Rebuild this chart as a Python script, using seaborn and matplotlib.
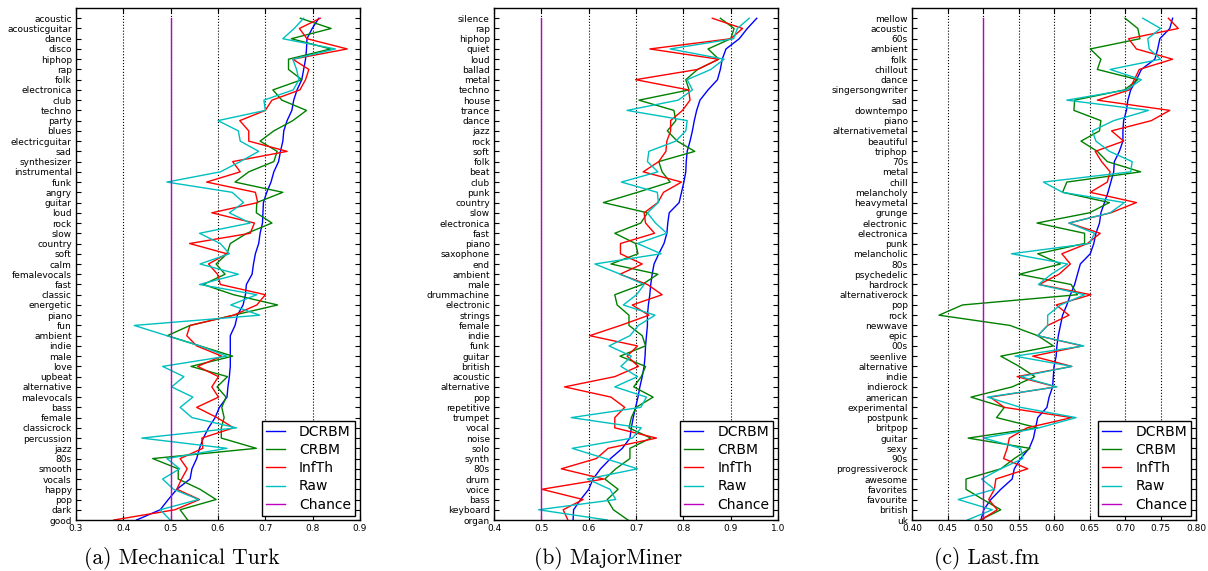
import numpy as np
import pandas as pd
import matplotlib
matplotlib.use("Agg")
import matplotlib.pyplot as plt
import seaborn as sns

# ---- (a) Mechanical Turk ----
mturk_tags = ["acoustic", "acousticguitar", "dance", "disco", "hiphop", "rap", "folk",
              "electronica", "club", "techno", "party", "blues", "electricguitar", "sad",
              "synthesizer", "instrumental", "funk", "angry", "guitar", "loud", "rock", "slow",
              "country", "soft", "calm", "femalevocals", "fast", "classic", "energetic", "piano",
              "fun", "ambient", "indie", "male", "love", "upbeat", "alternative", "malevocals",
              "bass", "female", "classicrock", "percussion", "jazz", "80s", "smooth", "vocals",
              "happy", "pop", "dark", "good"]
mturk_dcrbm = [.813, .799, .788, .787, .785, .781, .777, .767, .760, .756, .746, .739, .737, .732,
               .728, .718, .712, .703, .696, .695, .694, .689, .686, .679, .675, .672, .660, .658,
               .653, .641, .636, .626, .626, .626, .626, .624, .621, .619, .603, .594, .580, .569,
               .561, .555, .545, .541, .513, .495, .478, .428]
mturk_crbm = [.774, .839, .755, .838, .749, .749, .777, .716, .735, .787, .758, .718, .689, .725,
              .718, .665, .636, .737, .682, .681, .714, .661, .626, .619, .596, .615, .569, .633,
              .726, .633, .541, .493, .562, .631, .543, .620, .598, .617, .608, .613, .607, .607,
              .681, .462, .516, .516, .562, .596, .520, .536]
mturk_infth = [.816, .772, .788, .873, .758, .792, .785, .773, .714, .700, .646, .665, .665, .746,
               .631, .647, .576, .679, .684, .587, .677, .668, .540, .619, .580, .599, .605, .700,
               .682, .633, .541, .534, .555, .608, .557, .601, .587, .601, .555, .598, .633, .566,
               .568, .520, .535, .523, .513, .561, .509, .380]
mturk_raw = [.781, .761, .737, .848, .758, .766, .771, .759, .697, .700, .600, .643, .647, .686,
             .647, .605, .492, .630, .654, .624, .668, .561, .605, .624, .562, .643, .561, .682,
             .627, .688, .423, .492, .562, .619, .483, .528, .502, .547, .520, .545, .639, .439,
             .619, .492, .519, .483, .506, .559, .478, .499]

# ---- (b) MajorMiner ----
mm_tags = ["silence", "rap", "hiphop", "quiet", "loud", "ballad", "metal", "techno", "house",
           "trance", "dance", "jazz", "rock", "soft", "folk", "beat", "club", "punk", "country",
           "slow", "electronica", "fast", "piano", "saxophone", "end", "ambient", "male",
           "drummachine", "electronic", "strings", "female", "indie", "funk", "guitar", "british",
           "acoustic", "alternative", "pop", "repetitive", "trumpet", "vocal", "noise", "solo",
           "synth", "80s", "drum", "voice", "bass", "keyboard", "organ"]
mm_dcrbm = [.955, .935, .918, .890, .882, .878, .872, .852, .835, .828, .823, .819, .814, .808,
            .806, .805, .801, .796, .791, .770, .767, .765, .759, .748, .738, .734, .731, .729,
            .726, .724, .724, .722, .720, .719, .717, .713, .708, .704, .699, .694, .690, .687,
            .671, .646, .625, .609, .600, .583, .568, .567]
mm_crbm = [.878, .907, .900, .852, .875, .830, .805, .812, .706, .780, .784, .766, .787, .824,
           .748, .755, .772, .703, .631, .724, .710, .655, .699, .704, .647, .746, .713, .655,
           .660, .685, .685, .713, .720, .666, .720, .711, .695, .736, .700, .690, .685, .731,
           .687, .687, .657, .634, .662, .639, .652, .683]
mm_infth = [.861, .925, .900, .729, .874, .830, .699, .811, .814, .798, .773, .773, .765, .763,
            .748, .715, .796, .758, .746, .717, .720, .739, .667, .667, .713, .666, .724, .755,
            .692, .727, .667, .602, .703, .681, .705, .655, .549, .647, .676, .655, .655, .743,
            .641, .616, .542, .632, .501, .588, .546, .556]
mm_raw = [.939, .914, .906, .772, .886, .858, .808, .819, .789, .681, .808, .805, .784, .727,
          .724, .746, .669, .745, .747, .724, .741, .765, .703, .753, .613, .667, .717, .701,
          .673, .740, .705, .687, .643, .690, .668, .703, .655, .722, .710, .563, .711, .692,
          .565, .635, .703, .597, .645, .657, .494, .639]

# ---- (c) Last.fm ----
lfm_tags = ["mellow", "acoustic", "60s", "ambient", "folk", "chillout", "dance",
            "singersongwriter", "sad", "downtempo", "piano", "alternativemetal", "beautiful",
            "triphop", "70s", "metal", "chill", "melancholy", "heavymetal", "grunge", "electronic",
            "electronica", "punk", "melancholic", "80s", "psychedelic", "hardrock",
            "alternativerock", "pop", "rock", "newwave", "epic", "00s", "seenlive", "alternative",
            "indie", "indierock", "american", "experimental", "postpunk", "britpop", "guitar",
            "sexy", "90s", "progressiverock", "awesome", "favorites", "favourite", "british", "uk"]
lfm_dcrbm = [.767, .763, .749, .746, .742, .723, .716, .708, .704, .702, .698, .697, .697, .692,
             .685, .684, .680, .676, .671, .666, .664, .659, .656, .651, .637, .633, .629, .623,
             .618, .612, .609, .606, .604, .603, .600, .599, .598, .593, .590, .577, .574, .571,
             .565, .553, .544, .541, .525, .511, .501, .497]
lfm_crbm = [.700, .718, .721, .651, .666, .661, .718, .699, .629, .628, .666, .664, .638, .661,
            .675, .722, .618, .612, .678, .650, .576, .643, .643, .577, .609, .551, .624, .633,
            .471, .438, .538, .577, .599, .525, .551, .573, .541, .483, .530, .519, .577, .479,
            .566, .544, .525, .476, .476, .500, .525, .496]
lfm_infth = [.761, .775, .705, .716, .767, .720, .713, .706, .661, .763, .737, .681, .698, .658,
             .667, .679, .675, .651, .716, .680, .621, .665, .647, .611, .623, .607, .579, .652,
             .603, .621, .591, .577, .640, .570, .625, .548, .603, .510, .530, .625, .562, .537,
             .534, .529, .563, .518, .516, .508, .520, .497]
lfm_raw = [.725, .750, .732, .734, .750, .679, .723, .702, .618, .733, .684, .654, .659, .678,
           .710, .708, .585, .612, .699, .679, .621, .657, .650, .540, .619, .596, .578, .643,
           .609, .591, .591, .577, .642, .545, .625, .553, .604, .506, .553, .631, .579, .501,
           .553, .556, .525, .498, .516, .465, .513, .478]

methods = ["DCRBM", "CRBM", "InfTh", "Raw", "Chance"]
palette = {"DCRBM": "b", "CRBM": "g", "InfTh": "r", "Raw": "c", "Chance": "m"}


def panel_frame(tags, dcrbm, crbm, infth, raw):
    n = len(tags)
    pos = np.arange(n)[::-1]
    series = [dcrbm, crbm, infth, raw, [0.5] * n]
    frames = [pd.DataFrame({"tag": tags, "pos": pos, "auc": vals, "method": name})
              for name, vals in zip(methods, series)]
    return pd.concat(frames, ignore_index=True)


plt.rcParams["font.family"] = "DejaVu Sans"
fig = plt.figure(figsize=(12.08, 5.71), dpi=100)

panels = [
    (panel_frame(mturk_tags, mturk_dcrbm, mturk_crbm, mturk_infth, mturk_raw), mturk_tags,
     0.0629, (0.3, 0.9), np.arange(0.3, 0.91, 0.1), "%.1f", "(a) Mechanical Turk", 182),
    (panel_frame(mm_tags, mm_dcrbm, mm_crbm, mm_infth, mm_raw), mm_tags,
     0.409, (0.4, 1.0), np.arange(0.4, 1.01, 0.1), "%.1f", "(b) MajorMiner", 608),
    (panel_frame(lfm_tags, lfm_dcrbm, lfm_crbm, lfm_infth, lfm_raw), lfm_tags,
     0.755, (0.40, 0.80), np.arange(0.40, 0.801, 0.05), "%.2f", "(c) Last.fm", 987),
]

for df, tags, left, xlim, xticks, fmt, caption, cap_x in panels:
    ax = fig.add_axes([left, 1 - 520 / 571, 284 / 1208, 512 / 571])
    sns.lineplot(data=df, x="auc", y="pos", hue="method", hue_order=methods,
                 palette=palette, orient="y", sort=False, estimator=None,
                 lw=1.0, ax=ax)
    ax.set_xlim(*xlim)
    ax.set_ylim(0, 50)
    ax.set_xticks(xticks)
    ax.set_xticklabels([fmt % t for t in xticks])
    ax.set_yticks(np.arange(len(tags))[::-1])
    ax.set_yticklabels(tags)
    ax.set_xlabel(""); ax.set_ylabel("")
    ax.grid(axis="x", color="k", linestyle=":", linewidth=0.8)
    ax.tick_params(direction="in", top=True, right=True, length=3.5, width=0.8,
                   labelsize=6.5)
    ax.tick_params(axis="x", pad=3.2)
    ax.tick_params(axis="y", pad=3.0)
    for s in ax.spines.values():
        s.set_linewidth(1.0)
    h, l = ax.get_legend_handles_labels()
    ax.legend(h, l, loc="lower right", fontsize=10, frameon=True, fancybox=False,
              edgecolor="k", framealpha=1, borderpad=0.3, labelspacing=0.3,
              handlelength=1.4, handletextpad=1.0, borderaxespad=0.3,
              bbox_to_anchor=(0.998, 0.0))
    fig.text(cap_x / 1208, 1 - 558 / 571, caption, family="cmr10", fontsize=15.5,
             ha="center", va="center")

fig.savefig("out.png", dpi=100)
plt.close(fig)
